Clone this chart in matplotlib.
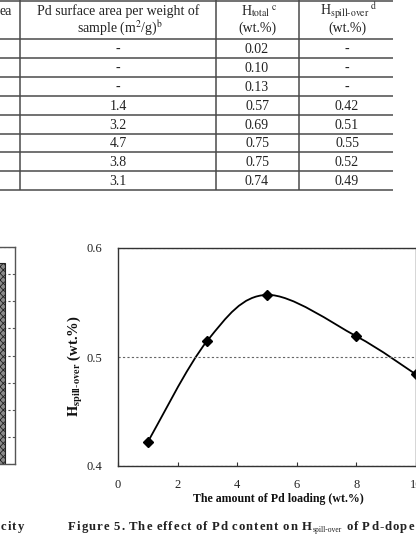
import matplotlib.pyplot as plt
import numpy as np
from matplotlib.path import Path
from matplotlib.patches import PathPatch
from matplotlib import font_manager

plt.rcParams['font.family'] = ['Liberation Serif', 'DejaVu Serif']
plt.rcParams['mathtext.fontset'] = 'stix'
plt.rcParams['hatch.linewidth'] = 0.6

# table above the figure (only its right part is in the crop)
pd_area = ['-', '-', '-', '1.4', '3.2', '4.7', '3.8', '3.1']
h_total = ['0.02', '0.10', '0.13', '0.57', '0.69', '0.75', '0.75', '0.74']
h_spill = ['-', '-', '-', '0.42', '0.51', '0.55', '0.52', '0.49']

# figure 5 data
pd_loading = [1, 3, 5, 8, 10]
h_spillover = [0.422, 0.515, 0.557, 0.519, 0.484]

# neighbouring bar chart, cut by the left edge
bar_value = [74]

W, H = 416, 538
fig = plt.figure(figsize=(W / 100, H / 100), dpi=100)

# page layer in pixel units, y going down
page = fig.add_axes([0, 0, 1, 1])
page.set_xlim(0, W)
page.set_ylim(H, 0)
page.axis('off')

# ---- table ----
row_lines = [0.5, 39, 58, 77, 96, 115, 133.5, 152, 171, 189.5]
col_lines = [20, 216, 299]
col_x = [118, 257, 347]
line_kw = dict(color='#4a4a4a', lw=1.1, solid_capstyle='butt')
for y in row_lines:
    page.plot([0, 393], [y, y], **line_kw)
for x in col_lines:
    page.plot([x, x], [0, row_lines[-1]], **line_kw)

tkw = dict(fontsize=10, color='#222', va='baseline', ha='center')
page.text(12, 15, 'ea', **dict(tkw, ha='right'))
page.text(col_x[0], 15, 'Pd surface area per weight of', **tkw)
page.text(col_x[0] + 2, 32, r'sample (m$^2$/g)$^{\rm b}$', **tkw)
page.text(col_x[1] + 2, 15, r'H$_{\rm total}$$^{\ \rm c}$', **tkw)
page.text(col_x[1], 32, '(wt.%)', **tkw)
page.text(col_x[2] + 2, 15, r'H$_{\rm spill\text{-}over}$$^{\ \rm d}$', **tkw)
page.text(col_x[2], 32, '(wt.%)', **tkw)

for i in range(len(h_total)):
    yb = (row_lines[i + 1] + row_lines[i + 2]) / 2 + 4.5
    page.text(col_x[0], yb, pd_area[i], **tkw)
    page.text(col_x[1], yb, h_total[i], **tkw)
    page.text(col_x[2], yb, h_spill[i], **tkw)

# ---- caption ----
cap_fp = font_manager.FontProperties(family='Liberation Serif', weight='bold', size=10)
renderer = fig.canvas.get_renderer()


def make_chars(y, parts, scale):
    items = []
    for txt, size, weight, dy, spaced in parts:
        fp = cap_fp.copy()
        fp.set_size(size * scale)
        fp.set_weight(weight)
        for ch in (list(txt) if spaced else [txt]):
            if ch == ' ':
                items.append((None, 2.5 * scale))
                continue
            t = page.text(0, y + dy, ch, fontproperties=fp, color='#222',
                          va='baseline', ha='left')
            items.append((t, t.get_window_extent(renderer).width))
    return items


def tracked(x0, x1, y, parts, min_gap=1.0):
    # letter-spaced caption spread between x0 and x1; shrink type if needed
    scale = 1.0
    for _ in range(3):
        items = make_chars(y, parts, scale)
        total = sum(w for _, w in items)
        gap = (x1 - x0 - total) / (len(items) - 1)
        if gap >= min_gap - 0.05:
            break
        for t, _ in items:
            if t is not None:
                t.remove()
        scale *= (x1 - x0 - min_gap * (len(items) - 1)) / total
    x = x0
    for t, w in items:
        if t is not None:
            t.set_x(x)
        x += w + gap
    return scale, gap


scale, gap = tracked(68, 414, 530,
                     [('Figure 5. The effect of Pd content on H', 10, 'bold', 0, True),
                      ('spill-over', 6, 'normal', 2, False),
                      (' of Pd-dope', 10, 'bold', 0, True)])

# end of the neighbouring caption, same type, from the crop edge
x = 1
for t, w in make_chars(530, [('city', 10, 'bold', 0, True)], scale):
    t.set_x(x)
    x += w + gap

# ---- figure 5 ----
ax = fig.add_axes([118 / W, 72 / H, 298 / W, 218 / H])
ax.set_xlim(0, 10)
ax.set_ylim(0.4, 0.6)
ax.set_xticks(range(0, 11, 2))
ax.set_yticks([0.4, 0.5, 0.6])
ax.yaxis.grid(True, ls=(0, (2, 2)), color='#666', lw=0.8)
ax.tick_params(axis='x', direction='in', length=3, pad=9, labelsize=9,
               color='#333', labelcolor='#222')
ax.tick_params(axis='y', length=0, pad=11, labelsize=9, labelcolor='#222')
for s in ax.spines.values():
    s.set_color('#333')
    s.set_linewidth(1.0)

# smoothed line like the spreadsheet's, Bezier through the points
pts = np.column_stack([pd_loading, h_spillover]).astype(float)
ext = np.vstack([pts[0], pts, pts[-1]])
verts = [pts[0]]
codes = [Path.MOVETO]
for i in range(len(pts) - 1):
    c1 = pts[i] + (ext[i + 2] - ext[i]) / 6
    c2 = pts[i + 1] - (ext[i + 3] - ext[i + 1]) / 6
    verts += [c1, c2, pts[i + 1]]
    codes += [Path.CURVE4] * 3
ax.add_patch(PathPatch(Path(verts, codes), fill=False, lw=1.3, edgecolor='k'))
ax.plot(pd_loading, h_spillover, 'D', color='k', ms=5, clip_on=False)

ax.set_xlabel('The amount of Pd loading (wt.%)', fontsize=8.6, fontweight='bold', color='#111')
ax.xaxis.set_label_coords((278 - 118) / 298, -0.125)
ax.text(-0.141, 0.46, r'$\mathbf{H}_{\mathbf{spill\text{-}over}}$ (wt.%)', transform=ax.transAxes,
        rotation=90, ha='center', va='center', fontsize=10.5, fontweight='bold', color='#111')

# ---- left bar chart piece ----
ax2 = fig.add_axes([-83 / W, 74 / H, 98 / W, 217 / H])
ax2.bar([0.5], bar_value, width=0.8, facecolor='#8a8a8a', edgecolor='#222',
        hatch='xxxxx', lw=0.8, zorder=2)
ax2.set_xlim(0, 1)
ax2.set_ylim(0, 80)
ax2.set_yticks(range(0, 81, 10))
ax2.yaxis.grid(True, ls=(0, (2, 2)), color='#555', lw=0.8)
ax2.set_axisbelow(True)
ax2.tick_params(length=0, labelleft=False, labelbottom=False)
for s in ax2.spines.values():
    s.set_color('#555')
    s.set_linewidth(1.0)

fig.savefig('out.png', dpi=100)
